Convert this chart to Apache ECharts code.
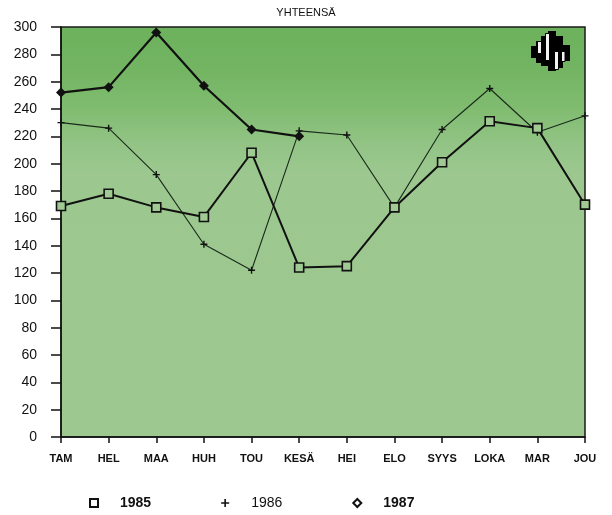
<!DOCTYPE html>
<html>
<head>
<meta charset="utf-8">
<script src="https://cdn.jsdelivr.net/npm/echarts@6/dist/echarts.min.js"></script>
<style>html,body{margin:0;padding:0;background:#fff}#c{width:612px;height:515px}</style>
</head>
<body>
<div id="c"></div>
<script>
const months = ['TAM','HEL','MAA','HUH','TOU','KESÄ','HEI','ELO','SYYS','LOKA','MAR','JOU'];
const yTicks = [0,20,40,60,80,100,120,140,160,180,200,220,240,260,280,300];
const s1985 = [169,178,168,161,208,124,125,168,201,231,226,170];
const s1986 = [230,226,192,141,122,224,221,168,225,255,223,235];
const s1987 = [252,256,296,257,225,220,null,null,null,null,null,null];
const seriesNames = ['1985','1986','1987'];

const FONT = 'Liberation Sans, Arial, sans-serif';
const plusPath = 'path://M4,0 L6,0 L6,4 L10,4 L10,6 L6,6 L6,10 L4,10 L4,6 L0,6 L0,4 L4,4 Z';
const chart = echarts.init(document.getElementById('c'));

// logo pieces (decoration)
const logoBlack = [[531,46,5,12],[536,41,5,22],[541,36,7,30],[548,31,8,40],[556,36,7,32],[563,45,7,16]];
const logoWhite = [[537.5,41.5,4,12],[545.5,33.5,4,27],[554.5,51.5,4,18],[561.5,51.5,3.5,10]];
const graphics = [];
logoBlack.forEach(r=>graphics.push({type:'rect',shape:{x:r[0],y:r[1],width:r[2],height:r[3]},style:{fill:'#000'},z:100}));
logoWhite.forEach(r=>graphics.push({type:'rect',shape:{x:r[0],y:r[1],width:r[2],height:r[3]},style:{fill:'#f4f4f4',stroke:'#000',lineWidth:1},z:101}));

chart.setOption({
  animation:false,
  backgroundColor:'#fff',
  title:{text:'YHTEENSÄ',left:'center',top:2,textStyle:{fontFamily:FONT,fontSize:11,fontWeight:'normal',color:'#111'}},
  grid:{left:61,right:27,top:27,bottom:78,show:true,borderColor:'#1a1a1a',borderWidth:1.5,
    backgroundColor:new echarts.graphic.LinearGradient(0,0,0,1,[
      {offset:0,color:'#6cb15c'},{offset:0.1,color:'#72b462'},{offset:0.2,color:'#80bc70'},
      {offset:0.29,color:'#93c486'},{offset:0.36,color:'#9cc88f'},{offset:1,color:'#9dc890'}])},
  legend:{
    left:89, top:496, padding:0, itemWidth:8, itemHeight:8, itemGap:70,
    textStyle:{fontFamily:FONT,fontSize:14,color:'#111',padding:[0,0,0,17]},
    data:[
      {name:seriesNames[0],icon:'rect',itemStyle:{color:'#fff',borderColor:'#111',borderWidth:2},textStyle:{fontWeight:'bold'}},
      {name:seriesNames[1],icon:plusPath,itemStyle:{color:'#111',borderWidth:0},textStyle:{fontWeight:'normal'}},
      {name:seriesNames[2],icon:'diamond',itemStyle:{color:'#fff',borderColor:'#111',borderWidth:2},textStyle:{fontWeight:'bold'}}
    ]
  },
  xAxis:{type:'category',data:months,boundaryGap:false,
    axisLine:{lineStyle:{color:'#111',width:1.5}},
    axisTick:{show:true,length:6,lineStyle:{color:'#111',width:1.5},alignWithLabel:true},
    axisLabel:{margin:16,fontFamily:FONT,fontSize:11,fontWeight:'bold',color:'#111',interval:0},
    splitLine:{show:false}},
  yAxis:{type:'value',min:0,max:300,interval:20,
    axisLine:{show:true,lineStyle:{color:'#111',width:1.5}},
    axisTick:{show:true,length:10,lineStyle:{color:'#111',width:1.5}},
    axisLabel:{margin:24,fontFamily:FONT,fontSize:14,color:'#111',
      formatter:v=>yTicks.includes(v)?String(v):''},
    splitLine:{show:false}},
  series:[
    {name:seriesNames[0],type:'line',data:s1985,symbol:'rect',symbolSize:9,
      lineStyle:{color:'#111',width:2},itemStyle:{color:'#a0c993',borderColor:'#111',borderWidth:1.6},z:3},
    {name:seriesNames[1],type:'line',data:s1986,symbol:plusPath,symbolSize:7,
      lineStyle:{color:'#1a2a1a',width:1.1},itemStyle:{color:'#111'},z:2},
    {name:seriesNames[2],type:'line',data:s1987,symbol:'diamond',symbolSize:10,connectNulls:false,
      lineStyle:{color:'#111',width:2.2},itemStyle:{color:'#111'},z:4}
  ],
  graphic:graphics
});
</script>
</body>
</html>
